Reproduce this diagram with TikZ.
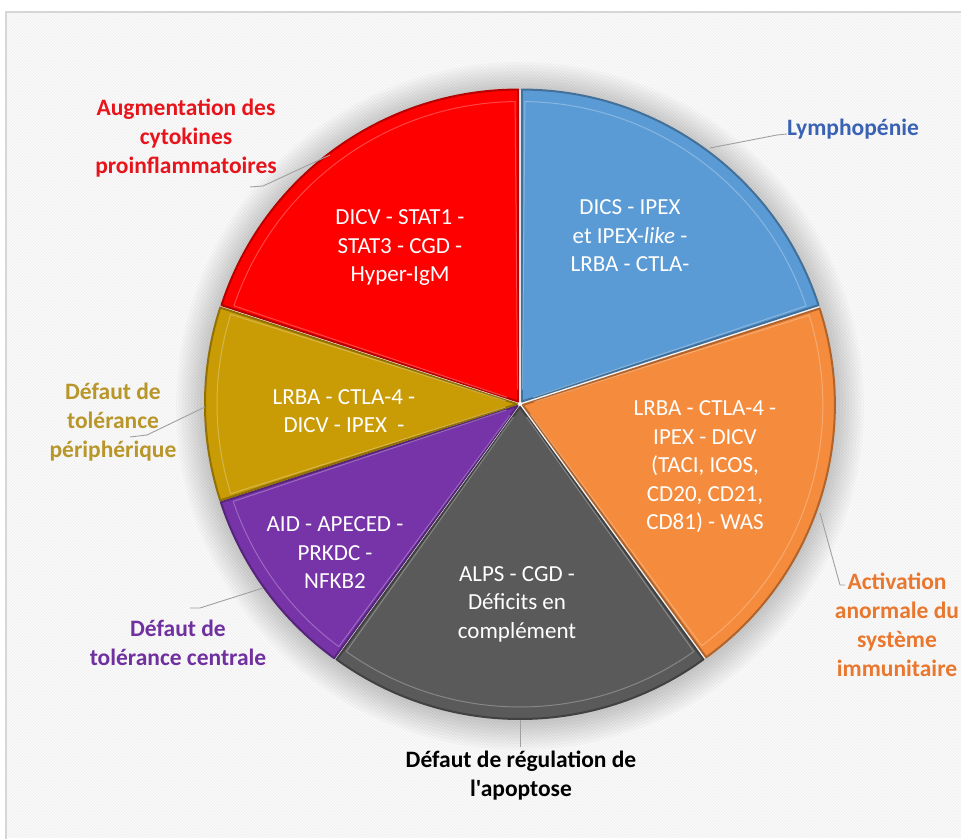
\documentclass[tikz,border=0pt]{standalone}
\usepackage{fontspec}
\setmainfont{Carlito}[Ligatures=TeXOff]
\usetikzlibrary{patterns}
\definecolor{bgc}{HTML}{F2F2F2}
\definecolor{frame}{HTML}{D6D6D6}
\definecolor{cred}{HTML}{FF0000}
\definecolor{cblue}{HTML}{5B9BD5}
\definecolor{corange}{HTML}{F58B3C}
\definecolor{cgray}{HTML}{5A5A5A}
\definecolor{cpurple}{HTML}{7733A8}
\definecolor{cgold}{HTML}{C99C06}
\definecolor{lred}{HTML}{E8141C}
\definecolor{lblue}{HTML}{3A62B4}
\definecolor{lgold}{HTML}{B8962A}
\definecolor{lpurple}{HTML}{7030A0}
\definecolor{lorange}{HTML}{E9772E}
\definecolor{leader}{HTML}{A0A0A0}
\newcommand\mySlice[3]{%
  \begin{scope}[shift={({(#1+#2)/2}:3)}]
    \fill[#3] (0,0) -- (#1:312) arc[start angle=#1,end angle=#2,radius=312] -- cycle;
    \draw[#3!72!black, line width=2, line join=round] (0,0) -- (#1:312) arc[start angle=#1,end angle=#2,radius=312] -- cycle;
    \draw[#3!55!white, line width=1, opacity=0.6, line join=round] (#1+3:12) -- (#1+0.6:300) arc[start angle=#1+0.6,end angle=#2-0.6,radius=300] -- (#2-3:12);
  \end{scope}}
\tikzset{
  lab/.style={font=\fontsize{23.5}{29}\selectfont\bfseries, align=center, inner sep=0pt},
  intext/.style={font=\fontsize{23}{28.5}\selectfont, text=white, align=center, inner sep=0pt},
  lead/.style={draw=leader, line width=0.9}
}
\begin{document}
\begin{tikzpicture}[x=1pt,y=1pt]
\useasboundingbox (0,0) rectangle (961,838);
\fill[white] (0,0) rectangle (961,838);
% panel
\fill[bgc] (6,0) rectangle (961,826);
\fill[pattern=north west lines, pattern color=white] (6,0) rectangle (961,826);
% soft halo round the pie
\foreach \r in {314,317,...,344}{
  \fill[black, opacity=0.018] (520,432) circle (\r);
}
\draw[frame, line width=2] (6,-2) -- (6,826) -- (963,826);
% pie
\begin{scope}[shift={(520,434)}]
  \fill[white!92!gray] (0,0) circle (314);
  \mySlice{18}{90}{cblue}
  \mySlice{-54}{18}{corange}
  \mySlice{-126}{-54}{cgray}
  \mySlice{-162}{-126}{cpurple}
  \mySlice{162}{198}{cgold}
  \mySlice{90}{162}{cred}
\end{scope}
% slice texts
\node[intext] (tred) at (400,590) {DICV - STAT1 -\\STAT3 - CGD -\\Hyper-IgM};
\node[intext] (tblue) at (630,602) {DICS - IPEX\\et IPEX-\textit{like} -\\LRBA - CTLA-};
\node[intext] (torange) at (705,371) {LRBA - CTLA-4 -\\IPEX - DICV\\(TACI, ICOS,\\CD20, CD21,\\CD81) - WAS};
\node[intext] (tgray) at (517,234) {ALPS - CGD -\\Déficits en\\complément};
\node[intext] (tpurple) at (335,285) {AID - APECED -\\PRKDC -\\NFKB2};
\node[intext] (tgold) at (344,427) {LRBA - CTLA-4 -\\DICV - IPEX\ \ -};
% outer labels
\node[lab, text=lred] (lbred) at (186,700) {Augmentation des\\cytokines\\proinflammatoires};
\node[lab, text=lblue, anchor=west] (lbblue) at (787,709) {Lymphopénie};
\node[lab, text=lgold] (lbgold) at (113,416) {Défaut de\\tolérance\\périphérique};
\node[lab, text=lpurple] (lbpurple) at (178,195) {Défaut de\\tolérance centrale};
\node[lab, text=black] (lbgray) at (521,62) {Défaut de régulation de\\l'apoptose};
\node[lab, text=lorange] (lborange) at (897,213) {Activation\\anormale du\\système\\immunitaire};
% leader points
\coordinate (pr0) at (250,651); \coordinate (pr1) at (263,652); \coordinate (pr2) at (330,683);
\coordinate (pb0) at (710,690); \coordinate (pb1) at (777,703); \coordinate (pb2) at (787,704);
\coordinate (pg0) at (130,401); \coordinate (pg1) at (147,403); \coordinate (pg2) at (205,431);
\coordinate (pp0) at (190,230); \coordinate (pp1) at (200,230); \coordinate (pp2) at (263,250);
\coordinate (pa0) at (520,118); \coordinate (pa1) at (520,91);
\coordinate (po0) at (820,325); \coordinate (po1) at (840,253); \coordinate (po2) at (845,253);
\draw[lead] (pr0) -- (pr1) -- (pr2);
\draw[lead] (pb0) -- (pb1) -- (pb2);
\draw[lead] (pg0) -- (pg1) -- (pg2);
\draw[lead] (pp0) -- (pp1) -- (pp2);
\draw[lead] (pa0) -- (pa1);
\draw[lead] (po0) -- (po1) -- (po2);
\end{tikzpicture}
\end{document}
